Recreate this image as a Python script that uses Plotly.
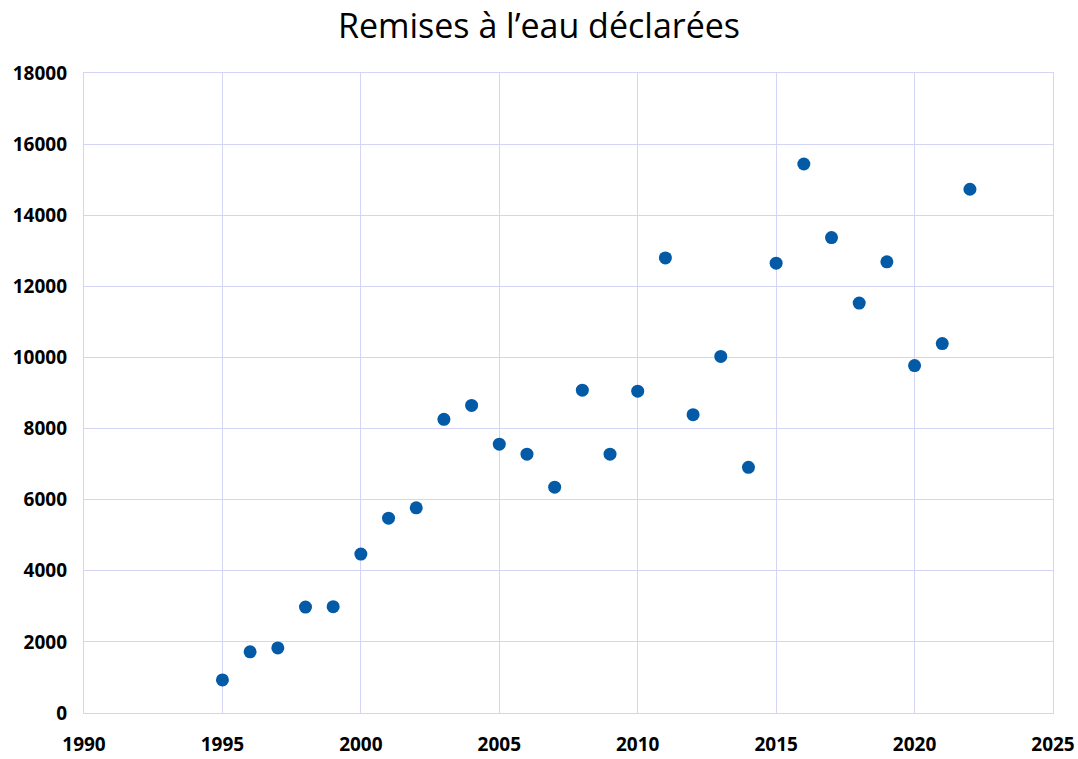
import plotly.graph_objects as go

# Data
years = [1995, 1996, 1997, 1998, 1999, 2000, 2001, 2002, 2003, 2004,
         2005, 2006, 2007, 2008, 2009, 2010, 2011, 2012, 2013, 2014,
         2015, 2016, 2017, 2018, 2019, 2020, 2021, 2022]
remises = [930, 1720, 1830, 2980, 2990, 4470, 5480, 5770, 8260, 8650,
           7560, 7280, 6350, 9080, 7280, 9050, 12800, 8390, 10030, 6910,
           12650, 15440, 13370, 11530, 12690, 9770, 10390, 14730]

grid_col = '#d4d4f4'
tick_font = dict(size=19, family='Open Sans, sans-serif', weight='bold', color='black')

fig = go.Figure()
fig.add_trace(go.Scatter(
    x=years, y=remises, mode='markers',
    marker=dict(color='#035AA6', size=13),
    showlegend=False
))

fig.update_layout(
    width=1078, height=759,
    paper_bgcolor='white', plot_bgcolor='white',
    font=dict(family='Open Sans, Liberation Sans, sans-serif', color='black'),
    title=dict(text='Remises à l’eau déclarées', x=0.5, xanchor='center',
               y=0.966, yanchor='middle',
               font=dict(size=34, family='Open Sans, sans-serif')),
    margin=dict(l=84, r=25, t=73, b=46, autoexpand=False),
    xaxis=dict(range=[1990, 2025], dtick=5, tick0=1990, tickformat='d',
               showgrid=True, gridcolor=grid_col, gridwidth=1.3,
               showline=True, linecolor=grid_col, linewidth=1.3, mirror=True,
               zeroline=False, ticks='', automargin=False, ticklabelstandoff=14,
               tickfont=tick_font),
    yaxis=dict(range=[0, 18000], dtick=2000, tickformat='d',
               showgrid=True, gridcolor=grid_col, gridwidth=1.3,
               showline=True, linecolor=grid_col, linewidth=1.3, mirror=True,
               zeroline=False, ticks='', automargin=False, ticklabelstandoff=12,
               tickfont=tick_font),
)

# remove the default page margin so the figure sits at the window's corner
fig.write_html("out.html", config={'displayModeBar': False},
               post_script="document.body.style.margin='0';")
